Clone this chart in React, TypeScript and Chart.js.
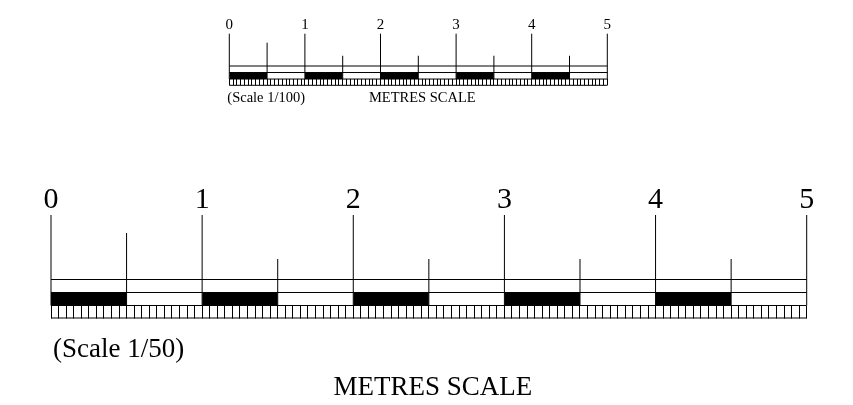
import React, { useEffect, useRef } from 'react';
import { Chart, registerables } from 'chart.js';

Chart.register(...registerables);

// ---- data (metres along the bar, drawing units up from the strip bottom) ----
const DIGIT_LABELS = ['0', '1', '2', '3', '4', '5'];
const MAJOR_MARKS = [0, 1, 2, 3, 4, 5];
const HALF_MARKS = [0.5, 1.5, 2.5, 3.5, 4.5];
const HALF_MARK_TOPS = [85, 59, 59, 59, 59];
const BLOCK_STARTS = [0, 1, 2, 3, 4];
const BLOCK_ENDS = [0.5, 1.5, 2.5, 3.5, 4.5];
const RULE_LEVELS = [0, 12.5, 25.5, 38.5];
const STRIP_TOP = 12.5;
const BLOCK_TOP = 25.5;
const MAJOR_TOP = 103;
const SCALE_MIN = 0;
const SCALE_MAX = 5;
const MINOR_STEP = 0.05;
const SMALL_CAPTIONS = ['(Scale 1/100)', 'METRES SCALE'];
const LARGE_CAPTIONS = ['(Scale 1/50)', 'METRES SCALE'];

const SERIF = '"Liberation Serif", "Times New Roman", Times, serif';

type Pt = { x: number; y: number | null };

function segs(list: Array<[number, number, number, number]>): Pt[] {
  const out: Pt[] = [];
  list.forEach(([x1, y1, x2, y2]) => {
    out.push({ x: x1, y: y1 }, { x: x2, y: y2 }, { x: x2, y: null });
  });
  return out;
}

const captionPlugin = {
  id: 'captions',
  afterDraw(chart: any, _args: any, opts: any) {
    const { ctx, chartArea, scales } = chart;
    ctx.save();
    ctx.fillStyle = '#000';
    ctx.textBaseline = 'alphabetic';
    (opts.items || []).forEach((c: any) => {
      ctx.font = `${c.size}px ${SERIF}`;
      ctx.textAlign = c.align;
      ctx.fillText(c.text, scales.x.getPixelForValue(c.at) + c.dx, chartArea.bottom + c.dy);
    });
    ctx.restore();
  },
};

type Spec = {
  top: number;
  height: number;
  padding: { top: number; left: number; right: number; bottom: number };
  digitSize: number;
  digitPad: number;
  tickLen: number;
  lineWidth: number;
  captionSize: number;
  captions: string[];
  capDx: [number, number];
  capDy: [number, number];
};

function buildConfig(s: Spec): any {
  const line = {
    type: 'scatter',
    showLine: true,
    pointRadius: 0,
    borderColor: '#000',
    borderWidth: s.lineWidth,
    spanGaps: false,
    fill: false,
    clip: false,
  };
  return {
    type: 'scatter',
    data: {
      datasets: [
        {
          ...line,
          label: 'blocks',
          data: segs(BLOCK_STARTS.map((a, i) => [a, BLOCK_TOP, BLOCK_ENDS[i], BLOCK_TOP] as [number, number, number, number])),
          borderWidth: 0,
          backgroundColor: '#000',
          fill: { value: STRIP_TOP },
        },
        {
          ...line,
          label: 'rules',
          data: segs(RULE_LEVELS.map((y) => [SCALE_MIN, y, SCALE_MAX, y] as [number, number, number, number])),
        },
        {
          ...line,
          label: 'major',
          data: segs(MAJOR_MARKS.map((x) => [x, STRIP_TOP, x, MAJOR_TOP] as [number, number, number, number])),
        },
        {
          ...line,
          label: 'half',
          data: segs(HALF_MARKS.map((x, i) => [x, STRIP_TOP, x, HALF_MARK_TOPS[i]] as [number, number, number, number])),
        },
      ],
    },
    options: {
      responsive: false,
      animation: false,
      events: [],
      layout: { padding: s.padding },
      plugins: {
        legend: { display: false },
        tooltip: { enabled: false },
        captions: {
          items: [
            { text: s.captions[0], at: SCALE_MIN, dx: s.capDx[0], dy: s.capDy[0], align: 'left', size: s.captionSize },
            { text: s.captions[1], at: (SCALE_MIN + SCALE_MAX) / 2, dx: s.capDx[1], dy: s.capDy[1], align: 'center', size: s.captionSize },
          ],
        },
      },
      scales: {
        x: {
          type: 'linear',
          min: SCALE_MIN,
          max: SCALE_MAX,
          position: { y: STRIP_TOP },
          ticks: { display: false, stepSize: MINOR_STEP, autoSkip: false, maxTicksLimit: 1000 },
          grid: {
            drawOnChartArea: false,
            drawTicks: true,
            tickLength: s.tickLen,
            color: '#000',
            lineWidth: 1,
          },
          border: { display: false },
        },
        x2: {
          type: 'linear',
          axis: 'x',
          position: 'top',
          min: SCALE_MIN,
          max: SCALE_MAX,
          ticks: {
            stepSize: 1,
            autoSkip: false,
            padding: s.digitPad,
            color: '#000',
            font: { family: SERIF, size: s.digitSize },
            callback: (_v: any, i: number) => DIGIT_LABELS[i],
          },
          grid: { display: false, drawTicks: false, tickLength: 0 },
          border: { display: false },
        },
        y: {
          type: 'linear',
          min: 0,
          max: MAJOR_TOP,
          display: false,
        },
      },
    },
    plugins: [captionPlugin],
  };
}

const SMALL: Spec = {
  top: 0,
  height: 110,
  padding: { top: 15.7, left: 229.3, right: 245.7, bottom: 24.7 },
  digitSize: 15,
  digitPad: 0,
  tickLen: 6.25,
  lineWidth: 1,
  captionSize: 14.5,
  captions: SMALL_CAPTIONS,
  capDx: [-2, 4],
  capDy: [17, 17],
};

const LARGE: Spec = {
  top: 170,
  height: 235,
  padding: { top: 15, left: 51, right: 46.3, bottom: 87 },
  digitSize: 30,
  digitPad: -3,
  tickLen: 12.5,
  lineWidth: 1,
  captionSize: 27,
  captions: LARGE_CAPTIONS,
  capDx: [2, 4],
  capDy: [38.7, 77],
};

function ScaleBar({ spec }: { spec: Spec }) {
  const ref = useRef<HTMLCanvasElement>(null);
  useEffect(() => {
    const chart = new Chart(ref.current as HTMLCanvasElement, buildConfig(spec));
    return () => chart.destroy();
  }, [spec]);
  return (
    <div style={{ position: 'absolute', left: 0, top: spec.top, width: 853, height: spec.height }}>
      <canvas ref={ref} width={853} height={spec.height} style={{ display: 'block', width: 853, height: spec.height }} />
    </div>
  );
}

export default function App() {
  return (
    <div style={{ position: 'absolute', left: 0, top: 0, width: 853, height: 405, background: '#fff', overflow: 'hidden' }}>
      <ScaleBar spec={SMALL} />
      <ScaleBar spec={LARGE} />
    </div>
  );
}
